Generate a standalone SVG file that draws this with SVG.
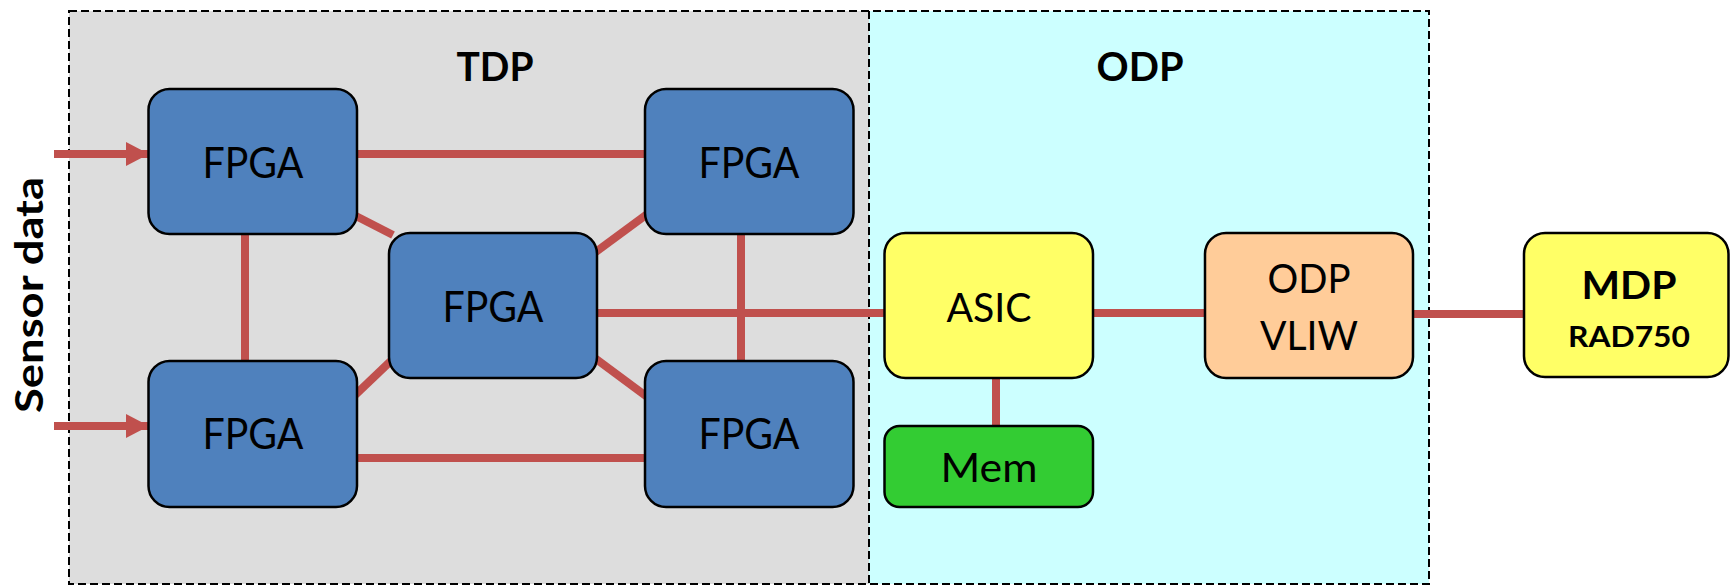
<svg xmlns="http://www.w3.org/2000/svg" width="1731" height="586" viewBox="0 0 1731 586">
  <style>
    .box { stroke: #000; stroke-width: 2.5; }
    .fpga { fill: #4F81BD; }
    .asic { fill: #FFFF66; }
    .vliw { fill: #FFCC99; }
    .mem { fill: #33CC33; }
    .lbl { font-family: Lato, "Open Sans", sans-serif; fill: #000; text-anchor: middle; }
    .bold { font-weight: bold; }
    .link { stroke: #C0504D; stroke-width: 8; fill: none; }
    .frame { fill: none; stroke: #000; stroke-width: 2; stroke-dasharray: 8 4; }
  </style>
  <defs>
    <marker id="arrow" viewBox="0 0 24 24" refX="22" refY="12" markerWidth="24" markerHeight="24" markerUnits="userSpaceOnUse" orient="auto">
      <polygon points="0,0 23,12 0,24" fill="#C0504D"/>
    </marker>
  </defs>

  <!-- processing regions -->
  <g id="regions">
    <rect x="69" y="11" width="800" height="573" fill="#DDDDDD"/>
    <rect x="869" y="11" width="560" height="573" fill="#CCFFFF"/>
    <rect class="frame" x="69" y="11" width="1360" height="573"/>
    <line class="frame" x1="869" y1="11" x2="869" y2="584"/>
    <text class="lbl bold" x="495" y="81" font-size="40" textLength="77" lengthAdjust="spacingAndGlyphs">TDP</text>
    <text class="lbl bold" x="1140" y="81" font-size="40" textLength="87" lengthAdjust="spacingAndGlyphs">ODP</text>
  </g>

  <g id="sensor-label">
    <text class="lbl bold" transform="translate(43,295) rotate(-90)" x="0" y="0" font-size="39" textLength="236" lengthAdjust="spacingAndGlyphs">Sensor data</text>
  </g>

  <!-- links between units -->
  <g id="connectors">
    <line class="link" x1="54" y1="154" x2="148" y2="154" marker-end="url(#arrow)"/>
    <line class="link" x1="54" y1="426" x2="148" y2="426" marker-end="url(#arrow)"/>
    <line class="link" x1="357" y1="154" x2="645" y2="154"/>
    <line class="link" x1="357" y1="458" x2="645" y2="458"/>
    <line class="link" x1="245" y1="234" x2="245" y2="361"/>
    <line class="link" x1="741" y1="234" x2="741" y2="361"/>
    <line class="link" x1="352" y1="214" x2="393" y2="235"/>
    <line class="link" x1="650" y1="212" x2="593" y2="254"/>
    <line class="link" x1="352" y1="398" x2="395" y2="357"/>
    <line class="link" x1="592" y1="356" x2="650" y2="399"/>
    <line class="link" x1="597" y1="313" x2="885" y2="313"/>
    <line class="link" x1="996" y1="378" x2="996" y2="426"/>
    <line class="link" x1="1093" y1="313" x2="1205" y2="313"/>
    <line class="link" x1="1413" y1="314" x2="1524" y2="314"/>
  </g>

  <g id="fpga-top-left">
    <rect class="box fpga" x="148.5" y="89" width="208.5" height="145" rx="21"/>
    <text class="lbl" x="253" y="178" font-size="42" textLength="101" lengthAdjust="spacingAndGlyphs">FPGA</text>
  </g>
  <g id="fpga-top-right">
    <rect class="box fpga" x="645" y="89" width="208.5" height="145" rx="21"/>
    <text class="lbl" x="749" y="178" font-size="42" textLength="101" lengthAdjust="spacingAndGlyphs">FPGA</text>
  </g>
  <g id="fpga-middle">
    <rect class="box fpga" x="389" y="233" width="208" height="145" rx="21"/>
    <text class="lbl" x="493" y="322" font-size="42" textLength="101" lengthAdjust="spacingAndGlyphs">FPGA</text>
  </g>
  <g id="fpga-bottom-left">
    <rect class="box fpga" x="148.5" y="361" width="208.5" height="146" rx="21"/>
    <text class="lbl" x="253" y="449" font-size="42" textLength="101" lengthAdjust="spacingAndGlyphs">FPGA</text>
  </g>
  <g id="fpga-bottom-right">
    <rect class="box fpga" x="645" y="361" width="208.5" height="146" rx="21"/>
    <text class="lbl" x="749" y="449" font-size="42" textLength="101" lengthAdjust="spacingAndGlyphs">FPGA</text>
  </g>

  <g id="asic">
    <rect class="box asic" x="884.5" y="233" width="208.5" height="145" rx="21"/>
    <text class="lbl" x="989" y="322" font-size="41" textLength="85" lengthAdjust="spacingAndGlyphs">ASIC</text>
  </g>
  <g id="mem">
    <rect class="box mem" x="884.5" y="426" width="208.5" height="81" rx="15"/>
    <text class="lbl" x="989" y="482" font-size="40" textLength="97" lengthAdjust="spacingAndGlyphs">Mem</text>
  </g>
  <g id="odp-vliw">
    <rect class="box vliw" x="1205" y="233" width="208" height="145" rx="21"/>
    <text class="lbl" x="1309" y="293" font-size="40" textLength="83" lengthAdjust="spacingAndGlyphs">ODP</text>
    <text class="lbl" x="1309" y="350" font-size="40" textLength="98" lengthAdjust="spacingAndGlyphs">VLIW</text>
  </g>
  <g id="mdp">
    <rect class="box asic" x="1524" y="233" width="204.5" height="144" rx="21"/>
    <text class="lbl bold" x="1629" y="299" font-size="38" textLength="95" lengthAdjust="spacingAndGlyphs">MDP</text>
    <text class="lbl bold" x="1629" y="347" font-size="29" textLength="122" lengthAdjust="spacingAndGlyphs">RAD750</text>
  </g>
</svg>
